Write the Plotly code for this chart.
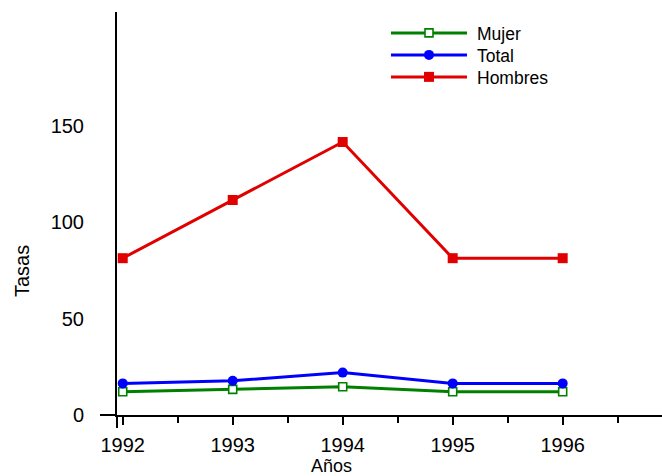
import plotly.graph_objects as go

# ---- data ----
years = [1992, 1993, 1994, 1995, 1996]
mujer = [12.1, 13.3, 14.7, 12.1, 12.1]
total = [16.4, 17.8, 22.0, 16.4, 16.4]
hombres = [81.4, 111.6, 141.7, 81.4, 81.4]
y_ticks = [0, 50, 100, 150]
series_names = ["Mujer", "Total", "Hombres"]

# ---- layout constants ----
W, H = 662, 476
L, R, T, B = 117, 0, 12, 61
PW, PH = W - L - R, H - T - B
X0, X1 = 1991.948, 1996.903
Y0, Y1 = 0, 209.2
FONT = "Liberation Sans, Arial, sans-serif"

GREEN, BLUE, RED = "#008000", "#0000FF", "#E00000"

fig = go.Figure()
fig.add_trace(go.Scatter(
    x=years, y=mujer, name=series_names[0], mode="lines+markers",
    line=dict(color=GREEN, width=3),
    marker=dict(symbol="square", size=8, color="white", line=dict(color=GREEN, width=1.6))))
fig.add_trace(go.Scatter(
    x=years, y=total, name=series_names[1], mode="lines+markers",
    line=dict(color=BLUE, width=3),
    marker=dict(symbol="circle", size=10, color=BLUE)))
fig.add_trace(go.Scatter(
    x=years, y=hombres, name=series_names[2], mode="lines+markers",
    line=dict(color=RED, width=3),
    marker=dict(symbol="square", size=10, color=RED)))

fig.update_layout(
    width=W, height=H,
    margin=dict(l=L, r=R, t=T, b=B, pad=0),
    paper_bgcolor="white", plot_bgcolor="white",
    font=dict(family=FONT, color="black", size=20),
    showlegend=True,
    legend=dict(
        x=(386 - L) / PW, xanchor="left",
        y=1 - (15 - T) / PH, yanchor="top",
        font=dict(size=17.5, family=FONT, color="black"),
        itemwidth=81, bgcolor="rgba(0,0,0,0)", borderwidth=0,
        traceorder="normal", itemclick=False,
    ),
    xaxis=dict(
        range=[X0, X1], tickmode="linear", tick0=1992, dtick=1,
        showline=True, linecolor="black", linewidth=2,
        ticks="outside", ticklen=8, tickwidth=1.5, tickcolor="black",
        minor=dict(dtick=0.5, tick0=1992, ticks="outside", ticklen=6,
                   tickwidth=1.5, tickcolor="black", showgrid=False),
        showgrid=False, zeroline=False,
        tickfont=dict(size=20), ticklabelstandoff=3,
    ),
    yaxis=dict(
        range=[Y0, Y1], tickmode="array", tickvals=y_ticks,
        showline=True, linecolor="black", linewidth=2,
        ticks="", showgrid=False, zeroline=False,
        tickfont=dict(size=20), ticklabelstandoff=27,
    ),
    annotations=[
        dict(text="Tasas", xref="paper", yref="paper",
             x=(22 - L) / PW, y=1 - (271 - T) / PH, textangle=-90,
             showarrow=False, xanchor="center", yanchor="middle",
             font=dict(size=20)),
        dict(text="Años", xref="paper", yref="paper",
             x=(331 - L) / PW, y=-(477 - (T + PH)) / PH,
             showarrow=False, xanchor="center", yanchor="bottom",
             font=dict(size=18), borderpad=0),
    ],
    shapes=[
        # x-axis stub extending left of the y axis
        dict(type="line", xref="paper", yref="paper",
             x0=(100 - L) / PW, x1=0, y0=0, y1=0,
             line=dict(color="black", width=2)),
        # y-axis stub extending below the x axis
        dict(type="line", xref="paper", yref="paper",
             x0=0, x1=0, y0=0, y1=-13 / PH,
             line=dict(color="black", width=2)),
    ],
)

post = """
document.body.style.margin = '0';
var gd = document.getElementById('{plot_id}');
function fixLegend(){
  var items = gd.querySelectorAll('.legend .traces');
  var y0 = null;
  items.forEach(function(t, i){
    t.querySelectorAll('.legendlines path').forEach(function(p){ p.setAttribute('d','M5,0h76'); });
    t.querySelectorAll('.legendpoints path.scatterpts').forEach(function(p){ p.setAttribute('transform','translate(43,0)'); });
    var tr = t.getAttribute('transform') || '';
    var m = tr.match(/translate\\(([-\\d.]+)[ ,]+([-\\d.]+)\\)/);
    if (m) {
      var x = parseFloat(m[1]), y = parseFloat(m[2]);
      if (y0 === null) y0 = y;
      t.setAttribute('transform', 'translate(' + x + ',' + (y0 + 22 * i) + ')');
    }
  });
}
fixLegend();
"""

fig.write_html("out.html", post_script=post, config={"displayModeBar": False})
